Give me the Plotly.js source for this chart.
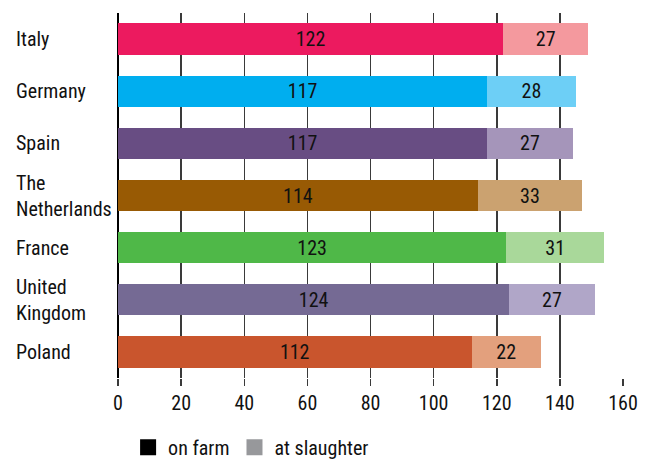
<!DOCTYPE html>
<html>
<head>
<meta charset="utf-8">
<script src="https://cdn.plot.ly/plotly-3.0.1.min.js"></script>
<style>html,body{margin:0;padding:0;background:#fff;}#chart{width:651px;height:463px;}</style>
</head>
<body>
<div id="chart"></div>
<script>
const countries = ["Italy", "Germany", "Spain", "The<br>Netherlands", "France", "United<br>Kingdom", "Poland"];
const onFarm = [122, 117, 117, 114, 123, 124, 112];
const atSlaughter = [27, 28, 27, 33, 31, 27, 22];
const farmColors = ["#EC1A5F", "#00AEEF", "#684D83", "#985A04", "#4FB848", "#756A94", "#C9552D"];
const slaughterColors = ["#F4999E", "#6DCFF6", "#A595BA", "#CBA270", "#A9D89A", "#B0A6C8", "#E3A07D"];
const seriesNames = ["on farm", "at slaughter"];
const legendColors = ["#000000", "#97989B"];
const xTicks = [0, 20, 40, 60, 80, 100, 120, 140, 160];

const FONT = '"Liberation Sans Narrow", "Roboto Condensed", "Arial Narrow", Roboto, sans-serif';
const FS = 20;

const traces = [
  {
    type: 'bar', orientation: 'h', y: countries, x: onFarm,
    marker: {color: farmColors, line: {width: 0}},
    text: onFarm.map(String), textposition: 'inside', insidetextanchor: 'middle',
    textfont: {family: FONT, size: FS, color: '#111'}, showlegend: false, hoverinfo: 'x+y'
  },
  {
    type: 'bar', orientation: 'h', y: countries, x: atSlaughter,
    marker: {color: slaughterColors, line: {width: 0}},
    text: atSlaughter.map(String), textposition: 'inside', insidetextanchor: 'middle',
    textfont: {family: FONT, size: FS, color: '#111'}, showlegend: false, hoverinfo: 'x+y'
  }
];
seriesNames.forEach((n, i) => {
  traces.push({
    type: 'scatter', mode: 'markers', x: [null], y: [null], name: n,
    marker: {symbol: 'square', size: 16, color: legendColors[i]}, showlegend: true
  });
});

const annotations = countries.map(c => ({
  xref: 'paper', yref: 'y', x: -0.206, y: c, text: c,
  xanchor: 'left', yanchor: 'middle', align: 'left', showarrow: false,
  font: {family: FONT, size: FS, color: '#111'}
}));

const layout = {
  width: 651, height: 463,
  margin: {l: 118, r: 28, t: 13, b: 85, autoexpand: false},
  paper_bgcolor: '#fff', plot_bgcolor: '#fff',
  barmode: 'stack', bargap: 0.4,
  font: {family: FONT, size: FS, color: '#111'},
  xaxis: {
    range: [0, 160], tickvals: xTicks, ticktext: xTicks.map(String),
    showgrid: true, gridcolor: '#3a3a3a', gridwidth: 1.5,
    zeroline: true, zerolinecolor: '#000', zerolinewidth: 1.5,
    ticks: 'outside', ticklen: 7, tickwidth: 1.5, tickcolor: '#3a3a3a',
    tickfont: {family: FONT, size: FS, color: '#111'}, showline: false, fixedrange: true
  },
  yaxis: {
    type: 'category', autorange: 'reversed', showticklabels: false,
    showgrid: false, zeroline: false, ticks: '', fixedrange: true
  },
  showlegend: true,
  legend: {
    orientation: 'h', x: 0.02, xanchor: 'left', y: -0.19, yanchor: 'middle',
    font: {family: FONT, size: FS, color: '#111'}, bgcolor: 'rgba(0,0,0,0)', traceorder: 'normal'
  },
  annotations: annotations
};

Plotly.newPlot('chart', traces, layout, {displayModeBar: false, staticPlot: true});
</script>
</body>
</html>
